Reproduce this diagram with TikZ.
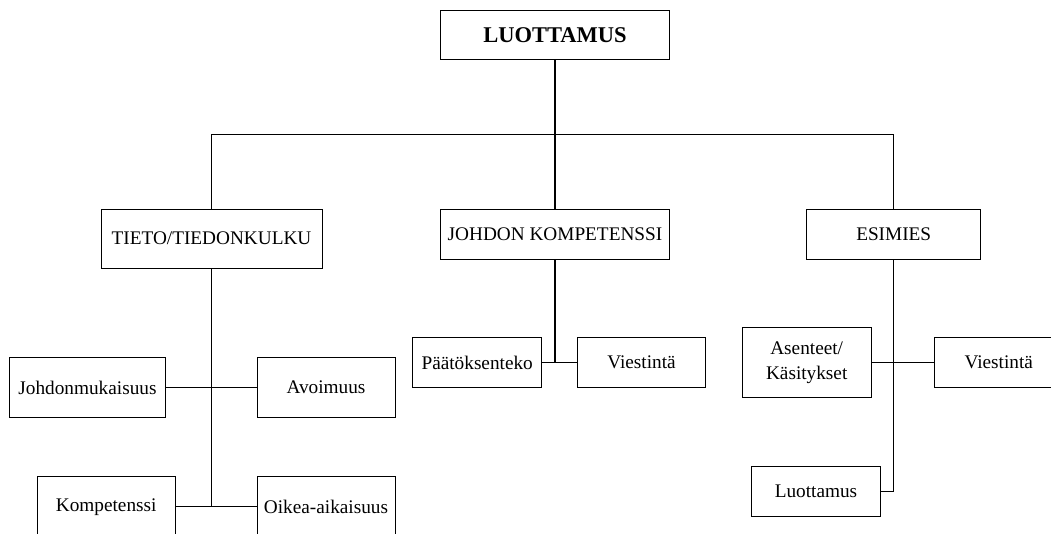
\documentclass[tikz,border=0pt]{standalone}
\usepackage{fontspec}
\setmainfont{Liberation Serif}

\tikzset{
  box/.style={draw, line width=0.6pt, inner sep=0pt, align=center,
    font=\fontsize{13.7}{17.6}\selectfont},
  trunk/.style={line width=0.9pt},
  branch/.style={line width=0.6pt}
}

\begin{document}
\begin{tikzpicture}[x=0.025cm, y=-0.025cm]
 \useasboundingbox (0,0) rectangle (1051,533);
 % ylin taso
 \node[box, minimum width=5.715cm, minimum height=1.23cm,
   font=\fontsize{16}{19}\selectfont\bfseries] (luottamus) at (555,35.3) {LUOTTAMUS};
 \node[box, minimum width=5.52cm, minimum height=1.48cm] (tieto) at (211.5,238.7) {TIETO/TIEDONKULKU};
 \node[box, minimum width=5.73cm, minimum height=1.25cm] (johto) at (555,234) {JOHDON KOMPETENSSI};
 \node[box, minimum width=4.35cm, minimum height=1.25cm] (esimies) at (893.7,234) {ESIMIES};
 \coordinate (bus) at (555,134.3);
 \draw[trunk] (luottamus.south) -- (johto.north);
 \draw[branch] (tieto.north) -- (tieto.north |- bus) -- (esimies.north |- bus) -- (esimies.north);
 % tieto
 \node[box, minimum width=3.91cm, minimum height=1.49cm] (johdonm) at (87.5,387.5) {Johdonmukaisuus};
 \node[box, minimum width=3.45cm, minimum height=1.49cm] (avoim) at (326,387.5) {Avoimuus};
 \node[box, minimum width=3.44cm, minimum height=1.49cm] (kompet) at (106.2,506.7) {Kompetenssi};
 \node[box, minimum width=3.45cm, minimum height=1.49cm] (oikea) at (326,506.7) {Oikea-aikaisuus};
 \draw[trunk] (tieto.south) -- (tieto.south |- kompet.east);
 \draw[branch] (johdonm) -- (avoim);
 \draw[branch] (kompet) -- (oikea);
 % johto
 \node[box, minimum width=3.225cm, minimum height=1.25cm] (paatos) at (477.2,362.7) {Päätöksenteko};
 \node[box, minimum width=3.21cm, minimum height=1.25cm] (viestA) at (641.5,362.7) {Viestintä};
 \draw[trunk] (johto.south) -- (johto.south |- paatos.east);
 \draw[branch] (paatos) -- (viestA);
 % esimies
 \node[box, minimum width=3.22cm, minimum height=1.75cm] (asenteet) at (806.7,362.7) {Asenteet/\\Käsitykset};
 \node[box, minimum width=3.21cm, minimum height=1.25cm] (viestB) at (998.7,362.7) {Viestintä};
 \node[box, minimum width=3.215cm, minimum height=1.25cm] (luottB) at (816,491.7) {Luottamus};
 \draw[trunk] (esimies.south) -- (esimies.south |- luottB.east) -- (luottB.east);
 \draw[branch] (asenteet) -- (viestB);
\end{tikzpicture}
\end{document}
